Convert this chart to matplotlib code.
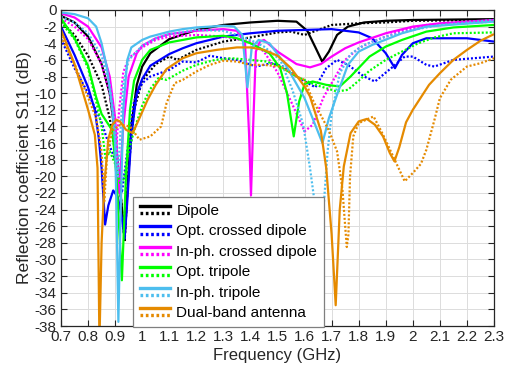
import matplotlib
matplotlib.use("Agg")
import matplotlib.pyplot as plt
from matplotlib.lines import Line2D
from matplotlib.legend_handler import HandlerBase

plt.rcParams['font.family'] = ['Liberation Sans', 'DejaVu Sans']
plt.rcParams['axes.unicode_minus'] = False

# ---- measured S11 curves (frequency in GHz, S11 in dB); solid = simulated, dotted = measured ----
dipole_f = [0.70, 0.75, 0.80, 0.85, 0.88, 0.90, 0.92, 0.935, 0.945, 0.96, 0.98, 1.00, 1.03, 1.10, 1.20, 1.30,
            1.40, 1.50, 1.57, 1.61, 1.64, 1.665, 1.69, 1.72, 1.76, 1.82, 1.90, 2.00, 2.30]
dipole_s = [-0.7, -1.5, -3.2, -6.5, -10, -15, -22, -27.5, -22, -14, -9, -6.8, -5.2, -3.5, -2.4, -1.8,
            -1.5, -1.3, -1.4, -2.5, -4.5, -6.2, -5.0, -3.0, -2.0, -1.5, -1.3, -1.2, -1.1]
dipole_m_f = [0.70, 0.75, 0.80, 0.85, 0.88, 0.90, 0.92, 0.935, 0.95, 0.97, 1.00, 1.05, 1.10, 1.13, 1.20, 1.30,
              1.40, 1.50, 1.55, 1.60, 1.65, 1.70, 1.80, 1.90, 2.00, 2.30]
dipole_m = [-1.4, -3.0, -5.5, -9, -13, -17, -22, -27.9, -19, -12, -8.5, -6.5, -5.6, -6.0, -4.8, -3.8,
            -3.3, -2.7, -2.6, -3.0, -2.4, -1.8, -1.6, -1.5, -1.3, -1.2]

ocd_f = [0.70, 0.75, 0.80, 0.825, 0.84, 0.85, 0.863, 0.875, 0.893, 0.91, 0.925, 0.935, 0.945, 0.96, 0.98, 1.00,
         1.03, 1.10, 1.15, 1.20, 1.30, 1.40, 1.50, 1.60, 1.70, 1.80, 1.85, 1.90, 1.934, 1.96, 2.00, 2.05, 2.20, 2.30]
ocd_s = [-2.0, -5.4, -9.3, -12, -15.5, -19, -25.8, -23.5, -21.7, -22.5, -25, -27.5, -23, -15, -10, -8.3,
         -6.7, -5.3, -4.6, -4.0, -3.2, -2.8, -2.5, -2.4, -2.3, -2.7, -3.4, -5.2, -7.0, -5.4, -4.0, -3.4, -3.4, -3.8]
ocd_m_f = [0.70, 0.75, 0.80, 0.85, 0.87, 0.90, 0.925, 0.945, 0.97, 1.00, 1.03, 1.10, 1.15, 1.20, 1.25, 1.30, 1.35,
           1.42, 1.48, 1.52, 1.57, 1.64, 1.68, 1.72, 1.76, 1.82, 1.86, 1.92, 1.97, 2.00, 2.05, 2.08, 2.15, 2.30]
ocd_m = [-3.5, -7, -10, -13.5, -15.5, -18, -22, -17, -11, -8.8, -8.0, -7.2, -6.2, -6.3, -5.5, -5.8, -6.0,
         -6.8, -6.4, -6.8, -8.0, -9.3, -7.0, -6.0, -6.6, -8.0, -8.6, -7.0, -5.6, -5.6, -6.6, -6.8, -6.0, -5.6]

icd_f = [0.70, 0.75, 0.80, 0.85, 0.88, 0.90, 0.915, 0.93, 0.95, 0.98, 1.00, 1.05, 1.10, 1.20, 1.30, 1.35, 1.38,
         1.395, 1.402, 1.41, 1.42, 1.435, 1.45, 1.50, 1.57, 1.62, 1.66, 1.70, 1.75, 1.80, 1.90, 2.00, 2.10, 2.30]
icd_s = [-0.4, -0.9, -2.0, -4.5, -8, -13, -22, -14, -8, -5.2, -4.3, -3.4, -2.9, -2.5, -2.3, -2.5, -4,
         -15, -22.3, -14, -5, -3.8, -3.6, -5.0, -6.5, -6.9, -6.5, -5.6, -4.6, -3.9, -2.8, -2.0, -1.6, -1.2]
icd_m_f = [0.70, 0.75, 0.80, 0.85, 0.88, 0.90, 0.905, 0.915, 0.93, 0.95, 1.00, 1.05, 1.10, 1.20, 1.30, 1.40,
           1.45, 1.50, 1.55, 1.60, 1.63, 1.67, 1.70, 1.75, 1.80, 1.85, 1.95, 2.05, 2.30]
icd_m = [-1.0, -2.0, -3.5, -6.5, -10, -14.5, -16, -12, -7.5, -5.8, -4.5, -3.6, -3.2, -3.0, -3.2, -3.8,
         -5.0, -7.5, -11, -14.6, -13.8, -10.5, -8.8, -6.0, -4.6, -3.8, -2.6, -1.8, -1.4]

otr_f = [0.70, 0.75, 0.80, 0.83, 0.85, 0.87, 0.89, 0.905, 0.925, 0.94, 0.955, 0.97, 1.00, 1.03, 1.10, 1.15, 1.20,
         1.30, 1.35, 1.40, 1.47, 1.51, 1.535, 1.56, 1.58, 1.60, 1.63, 1.68, 1.73, 1.77, 1.84, 1.90, 1.96, 2.05,
         2.15, 2.30]
otr_s = [-1.0, -3.4, -6.7, -10.5, -12.5, -13.5, -14.5, -20, -32.5, -20, -12, -8.5, -6.0, -4.8, -3.9, -3.6, -3.3,
         -3.1, -3.4, -4.0, -5.2, -7.0, -10, -15.2, -11, -8.9, -8.6, -9.0, -9.2, -8.0, -5.6, -4.4, -3.6, -2.6,
         -2.1, -1.8]
otr_m_f = [0.70, 0.75, 0.80, 0.83, 0.85, 0.865, 0.88, 0.90, 0.92, 0.935, 0.95, 0.97, 1.00, 1.03, 1.06, 1.09, 1.15,
           1.20, 1.27, 1.33, 1.40, 1.46, 1.51, 1.57, 1.64, 1.72, 1.76, 1.80, 1.84, 1.90, 1.96, 2.02, 2.08, 2.15,
           2.30]
otr_m = [-1.5, -3.5, -7, -11, -14, -18, -17, -18.5, -21, -20, -17, -14.5, -11.5, -9.5, -8.2, -8.4, -7.3,
         -6.6, -6.0, -5.8, -6.0, -6.2, -6.8, -8.0, -9.0, -9.8, -9.6, -8.5, -7.3, -6.0, -5.0, -4.0, -3.3, -2.8,
         -2.7]

itr_f = [0.70, 0.75, 0.80, 0.83, 0.85, 0.87, 0.89, 0.90, 0.905, 0.912, 0.92, 0.93, 0.945, 0.96, 1.00, 1.03, 1.10,
         1.15, 1.20, 1.30, 1.34, 1.37, 1.389, 1.405, 1.43, 1.47, 1.53, 1.60, 1.666, 1.69, 1.72, 1.76, 1.80, 1.85,
         1.96, 2.05, 2.30]
itr_s = [-0.3, -0.5, -1.0, -2.0, -4.0, -7.0, -12, -16, -24, -37.5, -25, -12, -6, -4.5, -3.6, -3.2, -2.6,
         -2.3, -2.1, -1.9, -2.0, -3.0, -9.3, -4.5, -3.6, -4.0, -6.6, -10.6, -16, -13, -10.2, -6.6, -5.0, -4.2,
         -2.8, -2.0, -1.4]
itr_m_f = [0.70, 0.75, 0.80, 0.85, 0.88, 0.90, 0.91, 0.93, 0.95, 1.00, 1.05, 1.10, 1.20, 1.30, 1.35, 1.40, 1.45,
           1.51, 1.555, 1.595, 1.62, 1.645, 1.662, 1.672, 1.685, 1.70, 1.73, 1.77, 1.82, 1.90, 2.00, 2.10, 2.30]
itr_m = [-0.8, -1.5, -2.8, -5.5, -9, -14, -20, -9, -6, -4.3, -3.4, -2.9, -2.4, -2.5, -3.0, -3.6, -4.4,
         -6.0, -9.6, -13.8, -19, -25, -29, -23, -17, -12.5, -7.6, -5.3, -4.2, -3.2, -2.4, -1.8, -1.2]

dual_f = [0.70, 0.75, 0.80, 0.825, 0.835, 0.842, 0.85, 0.86, 0.875, 0.89, 0.905, 0.918, 0.94, 0.965, 0.99, 1.02,
          1.05, 1.09, 1.15, 1.20, 1.275, 1.35, 1.40, 1.45, 1.50, 1.55, 1.60, 1.62, 1.66, 1.68, 1.70, 1.715, 1.73,
          1.745, 1.77, 1.80, 1.83, 1.86, 1.89, 1.915, 1.932, 1.95, 1.975, 2.00, 2.03, 2.06, 2.10, 2.15, 2.20,
          2.25, 2.30]
dual_s = [-2.4, -6.5, -12, -15, -19, -40, -28, -21, -15.5, -13.8, -13.2, -13.4, -14.4, -14.8, -13, -10.8,
          -9.0, -7.1, -5.8, -5.2, -4.8, -4.5, -4.5, -4.8, -5.5, -7.0, -9.2, -10.4, -14.5, -19, -27, -35.5, -24,
          -18.8, -14.8, -13.4, -13.1, -13.8, -15.2, -17.2, -18.2, -16.5, -13.5, -12, -10.5, -9.0, -7.6, -6.0, -4.8,
          -3.7, -2.9]
dual_m_f = [0.70, 0.75, 0.80, 0.83, 0.85, 0.86, 0.87, 0.89, 0.92, 0.955, 0.99, 1.03, 1.07, 1.09, 1.12, 1.15, 1.20,
            1.25, 1.30, 1.35, 1.40, 1.45, 1.51, 1.57, 1.60, 1.63, 1.69, 1.72, 1.74, 1.75, 1.756, 1.762, 1.768, 1.78,
            1.80, 1.855, 1.89, 1.93, 1.97, 2.00, 2.03, 2.05, 2.08, 2.10, 2.14, 2.20, 2.25, 2.30]
dual_m = [-3.2, -6.5, -10.5, -13, -17, -23, -17.5, -14.5, -13.8, -14.0, -15.6, -15.2, -14.0, -11.2, -8.8, -8.4,
          -7.4, -6.6, -6.1, -6.2, -6.6, -6.6, -6.8, -8.0, -8.4, -10.8, -14.5, -17.0, -21.6, -26, -28.5, -27, -20,
          -15.2, -13.6, -12.8, -15, -17.8, -20.6, -19.6, -18.5, -16.8, -13.2, -10.6, -8.4, -6.8, -6.4, -5.8]

labels = ["Dipole", "Opt. crossed dipole", "In-ph. crossed dipole", "Opt. tripole", "In-ph. tripole",
          "Dual-band antenna"]
colors = ["#000000", "#0000FF", "#FF00FF", "#00FF00", "#4DBEEE", "#E58A00"]
x_ticks = [0.7, 0.8, 0.9, 1.0, 1.1, 1.2, 1.3, 1.4, 1.5, 1.6, 1.7, 1.8, 1.9, 2.0, 2.1, 2.2, 2.3]
y_ticks = list(range(-38, 1, 2))

series = [
    (dipole_f, dipole_s, dipole_m_f, dipole_m),
    (ocd_f, ocd_s, ocd_m_f, ocd_m),
    (icd_f, icd_s, icd_m_f, icd_m),
    (otr_f, otr_s, otr_m_f, otr_m),
    (itr_f, itr_s, itr_m_f, itr_m),
    (dual_f, dual_s, dual_m_f, dual_m),
]

LW = 1.6
DOT = (0, (0.9, 0.9))

fig = plt.figure(figsize=(5.13, 3.74), dpi=100)
ax = fig.add_axes([0.1189, 0.1283, 0.8441, 0.845])

for (fs, s, fm, m), c in zip(series, colors):
    ax.plot(fs, s, color=c, lw=LW, solid_capstyle='butt', clip_on=True)
    ax.plot(fm, m, color=c, lw=LW, linestyle=DOT, clip_on=True)

ax.set_xlim(0.7, 2.3)
ax.set_ylim(-38, 0)
ax.set_xticks(x_ticks)
ax.set_xticklabels([f"{t:g}" for t in x_ticks])
ax.set_yticks(y_ticks)
ax.set_yticklabels([str(t) for t in y_ticks])
ax.tick_params(direction='in', length=4, width=0.8, top=True, right=True, labelsize=11,
               colors='#262626', pad=3)
ax.grid(True, color='#dcdcdc', linewidth=0.7)
ax.set_axisbelow(True)
for sp in ax.spines.values():
    sp.set_color('#262626')
    sp.set_linewidth(0.9)
ax.set_xlabel("Frequency (GHz)", fontsize=12, color='#262626', labelpad=3)
ax.set_ylabel("Reflection coefficient S11 (dB)", fontsize=12.5, color='#262626', labelpad=2)


class SolidDotHandler(HandlerBase):
    """Legend key showing the solid line above the dotted one."""
    def create_artists(self, legend, orig_handle, xdescent, ydescent, width, height, fontsize, trans):
        c = orig_handle.get_color()
        y1 = -ydescent + height * 0.85
        y2 = -ydescent + height * 0.15
        l1 = Line2D([-xdescent, -xdescent + width], [y1, y1], color=c, lw=LW * 1.5, transform=trans)
        l2 = Line2D([-xdescent, -xdescent + width], [y2, y2], color=c, lw=LW * 1.5, linestyle=(0, (0.8, 0.8)),
                    transform=trans)
        return [l1, l2]


handles = [Line2D([], [], color=c) for c in colors]
leg = ax.legend(handles, labels, handler_map={Line2D: SolidDotHandler()},
                loc='upper left', bbox_to_anchor=(0.166, 0.408), borderaxespad=0, fontsize=11,
                handlelength=1.95, handletextpad=0.45, borderpad=0.45, labelspacing=0.42,
                frameon=True, fancybox=False, edgecolor='#7f7f7f', framealpha=1)
leg.get_frame().set_linewidth(0.9)

fig.savefig("out.png", dpi=100)
